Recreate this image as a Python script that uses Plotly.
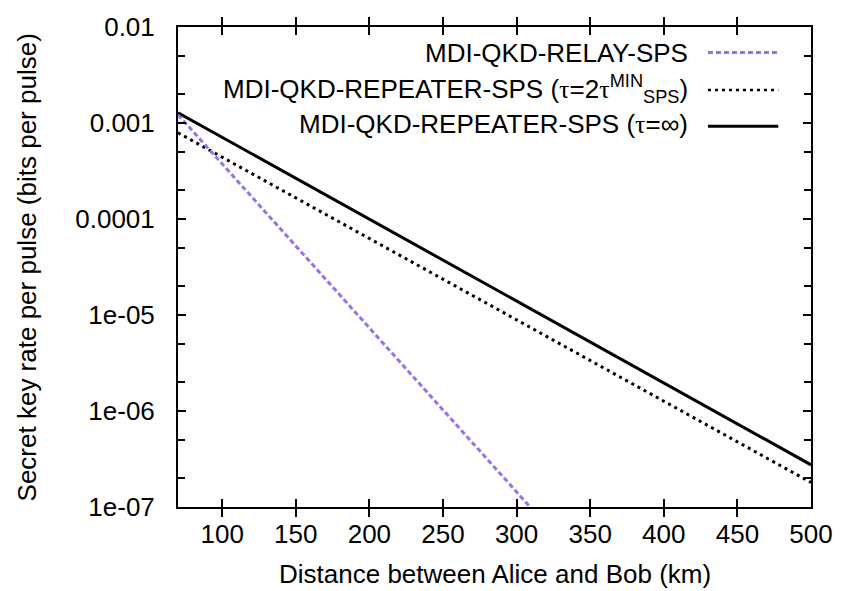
import plotly.graph_objects as go

# Data
dist_relay = [70, 100, 150, 200, 250, 300, 310]
rate_relay = [1.22e-3, 3.75e-4, 5.25e-5, 7.35e-6, 1.03e-6, 1.44e-7, 9.7e-8]

dist_rep = [70, 100, 150, 200, 250, 300, 350, 400, 450, 500]
rate_rep_tau2 = [7.91e-4, 4.40e-4, 1.66e-4, 6.26e-5, 2.36e-5, 8.91e-6, 3.36e-6, 1.27e-6, 4.78e-7, 1.80e-7]
rate_rep_inf = [1.28e-3, 7.10e-4, 2.66e-4, 9.96e-5, 3.73e-5, 1.40e-5, 5.24e-6, 1.96e-6, 7.34e-7, 2.75e-7]

x_ticks = [100, 150, 200, 250, 300, 350, 400, 450, 500]
y_ticks = [1e-7, 1e-6, 1e-5, 1e-4, 1e-3, 1e-2]
y_ticktext = ["1e-07", "1e-06", "1e-05", "0.0001", "0.001", "0.01"]
y_minor = [m * 10.0 ** e for e in range(-7, -2) for m in (2, 5)]

TAU = '<span style="font-family:Liberation Serif, serif">τ</span>'
labels = [
    "MDI-QKD-RELAY-SPS",
    f"MDI-QKD-REPEATER-SPS ({TAU}=2{TAU}<sup>MIN</sup><sub>SPS</sub>)",
    f"MDI-QKD-REPEATER-SPS ({TAU}=∞)",
]

FONT = "Liberation Sans, Arial, sans-serif"
FS = 26
PURPLE = "#9b6ff0"

fig = go.Figure()
fig.add_trace(go.Scatter(x=dist_relay, y=rate_relay, mode="lines", yaxis="y2",
                         line=dict(color=PURPLE, width=3, dash="5px,3px"), showlegend=False))
fig.add_trace(go.Scatter(x=dist_rep, y=rate_rep_tau2, mode="lines",
                         line=dict(color="black", width=3, dash="3px,4px"), showlegend=False))
fig.add_trace(go.Scatter(x=dist_rep, y=rate_rep_inf, mode="lines",
                         line=dict(color="black", width=3), showlegend=False))

L, R, T, B = 178, 28, 19, 84
W, H = 845, 591
pw, ph = W - L - R, H - T - B

def px_x(p):
    return (p - L) / pw

def px_y(p):
    return (H - B - p) / ph

styles = [dict(color=PURPLE, width=3, dash="5px,3px"),
          dict(color="black", width=2.5, dash="3px,4px"),
          dict(color="black", width=3)]
rows_text = [45, 82, 118]
rows_line = [45, 83, 120]
annotations = []
shapes = []
for lab, st, yt, yl in zip(labels, styles, rows_text, rows_line):
    annotations.append(dict(text=lab, x=px_x(695), y=px_y(yt), xref="paper", yref="paper",
                            xanchor="right", yanchor="middle", showarrow=False,
                            font=dict(family=FONT, size=FS, color="black")))
    shapes.append(dict(type="line", xref="paper", yref="paper", x0=px_x(713), x1=px_x(784),
                       y0=px_y(yl), y1=px_y(yl), line=st))

annotations.append(dict(text="Distance between Alice and Bob (km)", x=0.5, y=px_y(575),
                        xref="paper", yref="paper", xanchor="center", yanchor="middle",
                        showarrow=False, font=dict(family=FONT, size=FS, color="black")))
annotations.append(dict(text="Secret key rate per pulse (bits per pulse)", x=px_x(26), y=0.5,
                        xref="paper", yref="paper", xanchor="center", yanchor="middle",
                        textangle=-90, showarrow=False,
                        font=dict(family=FONT, size=FS, color="black")))

fig.update_layout(
    width=W, height=H,
    margin=dict(l=L, r=R, t=T, b=B),
    paper_bgcolor="white", plot_bgcolor="white",
    font=dict(family=FONT, size=FS, color="black"),
    annotations=annotations, shapes=shapes,
    showlegend=False,
    xaxis=dict(range=[70, 500], tickmode="array", tickvals=x_ticks,
               ticks="inside", ticklen=8, tickwidth=2, tickcolor="black",
               showline=True, linecolor="black", linewidth=2, mirror="allticks",
               showgrid=False, zeroline=False, ticklabelstandoff=3,
               tickfont=dict(family=FONT, size=FS, color="black")),
    yaxis=dict(type="log", range=[-7, -2], tickmode="array", tickvals=y_ticks,
               ticktext=y_ticktext,
               ticks="inside", ticklen=8, tickwidth=2, tickcolor="black",
               showline=True, linecolor="black", linewidth=2, mirror="allticks",
               showgrid=False, zeroline=False, ticklabelstandoff=16,
               tickfont=dict(family=FONT, size=FS, color="black")),
    yaxis2=dict(type="log", range=[-7, -2], overlaying="y", anchor="x", side="left",
                tickmode="array", tickvals=y_minor, showticklabels=False,
                ticks="inside", ticklen=7, tickwidth=2, tickcolor="black",
                showline=False, mirror="allticks", showgrid=False, zeroline=False),
)

fig.write_html("out.html")
